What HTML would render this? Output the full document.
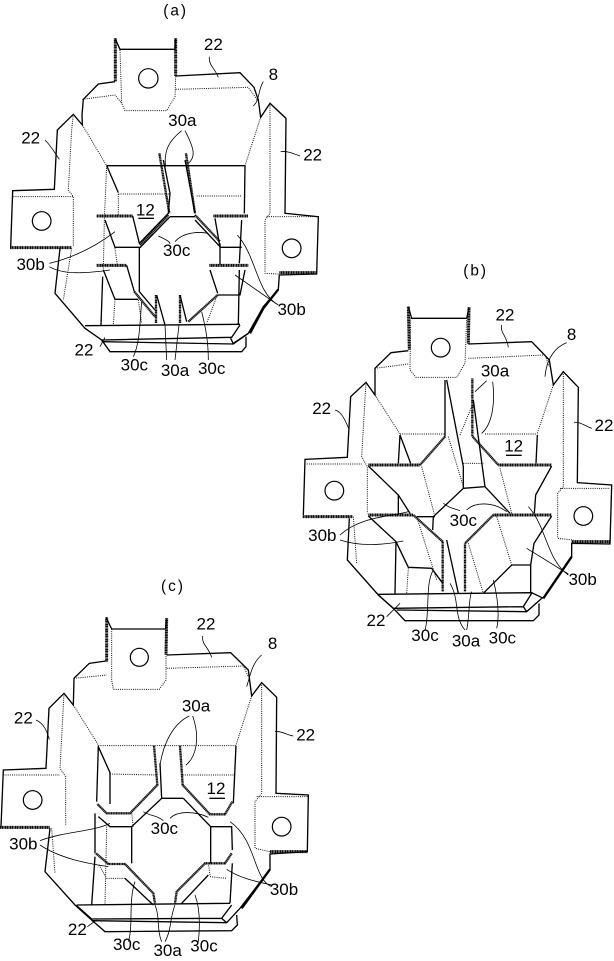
<!DOCTYPE html>
<html><head><meta charset="utf-8"><style>
html,body{margin:0;padding:0;background:#fff}
svg{display:block}
.s,.d,.t,.l,.c,.k{fill:none;stroke-linejoin:miter}
.s{stroke:#000;stroke-width:4}
.d{stroke:#111;stroke-width:3;stroke-dasharray:3 3.5}
.t{stroke:#111;stroke-width:9;stroke-dasharray:4 1}
.k{stroke:#000;stroke-width:7}
.l{stroke:#000;stroke-width:2.4}
.c{stroke:#000;stroke-width:3.6}
text{font-family:"Liberation Sans",sans-serif;font-size:51px;text-anchor:middle;fill:#000}
.p{font-size:46px;letter-spacing:6px}
</style></head><body>
<svg width="614" height="961" viewBox="0 0 614 961" xmlns="http://www.w3.org/2000/svg">
<rect width="614" height="961" fill="#fff"/>

<!-- (a) -->
<g transform="scale(.33333)">
<path class="t" d="M346 115V245M527 115V228M30 743H215M838 818H950M290 648H398M640 648H745M290 796H380M628 796H745"/>
<path class="t" style="stroke-width:7" d="M478 460L508 640M558 460L585 640M505 645L420 735M585 645L660 725M403 875L465 950M653 885L565 965M468 885V970M540 885V970"/>
<path class="k" d="M750 1000L790 925L835 868"/>
<path class="s" d="M345 115L360 148H525L527 115M345 245L295 252L250 298L246 345L247 375L220 343L172 390L163 568L38 572L32 742M180 745L165 880L255 985L305 1020L330 1055H725L738 1040V1010M700 1030L745 1000L790 920L835 868L838 825L950 822L955 650L855 640L858 355L810 310L782 352L775 300L762 262L720 218L527 228"/>
<path class="s" d="M320 497H735M320 497L355 578M255 977L720 973M305 1020L695 1012L720 975M305 1025L700 1032L745 1000M690 1010L700 1032M398 648L418 730L505 640L510 580L490 480M510 650L418 745V875L465 930M510 650H585M585 640L555 480M315 660L345 742H420M308 830L303 975M310 810L345 898H415M380 796L403 875M470 885L495 975M540 885L560 965M630 810L653 880M735 810L720 885H653M725 660L718 790M718 810L715 973M645 655L660 742H725M660 730V795M735 497L733 640M585 660L660 740M418 745L505 655"/>
<path class="d" d="M360 150L365 310L375 332H500L525 290L527 228M247 298L345 285L365 310M527 268L745 262L772 300M247 375L320 497M782 352L735 497M220 343L215 390L205 570L220 590V740M40 590H220M215 745L190 900M810 310V640L795 660V820L835 822M800 650H950M355 582V648M355 582H510M590 588H725M320 497L313 660L310 810M345 745L352 795M345 898L340 975M415 900L425 970M650 890L620 970"/>
<circle class="c" cx="445" cy="235" r="29"/><circle class="c" cx="125" cy="663" r="28"/><circle class="c" cx="875" cy="745" r="28"/>
<path class="l" d="M628 170C625 195 645 205 655 232M790 245C775 265 780 300 760 318M135 420C155 440 165 460 178 478M900 468C880 460 860 452 842 455M545 392C510 420 490 450 497 500M555 392C580 440 590 470 565 490M475 708C500 720 510 725 510 732M525 725C550 695 600 695 625 700M148 790C210 775 280 745 345 695M148 800C190 825 260 820 330 810M835 915C770 880 770 770 712 705M830 912L705 825M300 1040L315 1012M400 1070C420 1030 420 960 425 905M500 1080L495 975M525 1080L537 975M625 1080C625 1020 615 975 605 935"/>
<line class="s" x1="415" y1="655" x2="462" y2="655"/>
<text class="p" x="527" y="47">(a)</text><text x="640" y="150">22</text><text x="820" y="240">8</text><text x="547" y="378">30a</text><text x="92" y="430">22</text><text x="938" y="482">22</text><text x="436" y="646">12</text><text x="530" y="768">30c</text><text x="92" y="810">30b</text><text x="875" y="945">30b</text><text x="252" y="1067">22</text><text x="403" y="1112">30c</text><text x="525" y="1128">30a</text><text x="635" y="1122">30c</text>
</g>

<!-- (b) -->
<g transform="translate(290 260) scale(.33333)">
<path class="t" d="M355 140L358 270M537 142L535 252M38 770H188M235 615H390M625 615H785M235 765H370M610 765H785M845 845H960"/>
<path class="t" style="stroke-width:7" d="M547 355V530M465 530L390 615M548 530L625 615M370 765L458 845M610 765L525 850M458 845V995M525 850V995"/>
<path class="k" d="M760 1015L845 890"/>
<path class="s" d="M355 140L365 175H530L537 142M355 272L303 278L255 325V405L228 367L182 410L172 592L45 598L40 765M178 775L172 900L265 1005L310 1045L345 1082H730L747 1065V1030M760 1015L845 890V850L960 852L965 675L862 668L865 382L820 335L790 375L778 300L725 245L535 252"/>
<path class="s" d="M465 360V530M235 618L325 705L360 760M785 618L737 705L733 760M235 768L318 845L355 922L425 925L458 970M785 768L732 850L722 915H665L580 1000M318 845L315 1000M722 915V1000M330 525L362 610M330 525L325 610M742 525L738 610M470 360L520 620V685L430 770L428 810M550 420L585 680L520 685M585 680L660 760M380 770H435M470 840L505 1000M265 1003L725 998L760 1015M265 1005L310 1045L700 1040L725 1000M320 1050L710 1055L755 1015M700 1040L710 1055M325 705V765"/>
<path class="d" d="M362 175L360 330L378 352H500L525 310L530 175M255 325L355 312M535 295L765 285L778 320M255 405L330 522M790 375L742 520M330 522H465M585 522H742M228 367L215 590L232 620V760M50 612H215M190 770L200 910M820 335V680L803 700V835L850 840M810 685H960M475 530L520 680M535 850L580 1000M355 925L350 1000M380 770L440 960M620 770L665 915M510 525L545 440M520 610H580M395 620L435 770M630 625L665 760"/>
<circle class="c" cx="452" cy="263" r="28"/><circle class="c" cx="133" cy="692" r="28"/><circle class="c" cx="880" cy="768" r="28"/>
<path class="l" d="M635 195C630 220 650 225 655 262M830 248C800 260 770 290 765 350M135 450C155 455 165 480 176 505M905 505C885 498 870 485 852 487M608 365C615 420 610 490 575 520M590 362L555 395M460 730C480 745 490 745 510 752M530 750C555 725 610 725 650 755M150 825C210 770 300 770 355 755M150 840C210 860 280 855 340 843M835 945C770 900 770 800 715 740M835 942L710 865M290 1070L330 1030M405 1110C420 1060 405 970 430 930M525 1110C490 1070 510 1020 480 970M530 1110C540 1060 535 1020 545 995M620 1105C630 1060 620 1000 610 960"/>
<line class="s" x1="648" y1="586" x2="695" y2="586"/>
<text class="p" x="557" y="47">(b)</text><text x="645" y="182">22</text><text x="845" y="240">8</text><text x="615" y="350">30a</text><text x="95" y="462">22</text><text x="942" y="513">22</text><text x="671" y="575">12</text><text x="520" y="798">30c</text><text x="97" y="843">30b</text><text x="878" y="975">30b</text><text x="258" y="1098">22</text><text x="405" y="1143">30c</text><text x="528" y="1160">30a</text><text x="637" y="1150">30c</text>
</g>

<!-- (c) -->
<g transform="translate(0 580) scale(.33333)">
<path class="t" d="M320 112V245M500 115L498 225M0 742H150M810 815H922"/>
<path class="t" style="stroke-width:7" d="M462 497L472 615L390 700H320L292 672M540 497L548 615L630 703H675L697 665M288 820L325 852H375L460 940L465 970M695 820L675 850H615L530 935L525 970"/>
<path class="k" d="M725 985L810 868"/>
<path class="s" d="M318 112L335 147H497L500 115M318 243L268 250L222 295L220 375L192 340L147 385L138 565L10 570L3 740M150 745L135 875L225 975L275 1020L315 1055L695 1052L712 1035L710 1005M720 985L810 868V822L922 815L925 645L828 640L830 352L785 308L755 348L745 270L692 218L500 225"/>
<path class="s" d="M295 497L290 665M295 500L330 578V672M708 497L700 670M480 550L485 655L395 740V850M550 655H485M550 655L632 740V850M295 710L330 740H395M632 740H695L697 810M285 700V820M285 830L275 975M697 850L690 970M375 895L460 975M625 885L545 970M230 975L690 970M230 977L275 1017L665 1015L695 975M275 1022L680 1028L720 985M665 1015L680 1028"/>
<path class="d" d="M335 147V300L340 328H478L498 300V150M222 295L320 285M500 265L730 258L745 290M220 375L295 495M755 348L708 495M295 497H708M192 340L180 565L197 590V735M10 585H180M155 745L165 880M785 308V640L765 665V805L810 815M770 650H925M330 582L470 585M548 585H705M297 855L320 895H375M630 890L680 895M625 850L630 885M320 740L315 975M395 700L400 740"/>
<circle class="c" cx="418" cy="232" r="27"/><circle class="c" cx="98" cy="660" r="28"/><circle class="c" cx="845" cy="740" r="28"/>
<path class="l" d="M608 168C605 195 625 200 635 232M785 225C755 250 750 290 740 320M108 420C130 430 140 450 148 478M880 468C860 465 845 452 825 455M568 408C520 430 490 490 480 555M578 408C600 470 590 530 558 555M430 695C455 710 470 705 490 722M510 715C535 690 590 695 625 712M120 782C190 755 280 755 330 730M120 795C180 835 260 850 325 860M815 920C760 900 770 780 690 725M815 915C770 905 720 895 680 868M262 1040L290 1020M385 1085C400 1040 385 960 405 905M485 1085C470 1050 480 1010 465 975M495 1085C515 1050 510 1010 525 975M595 1085C600 1040 600 985 585 945"/>
<line class="s" x1="628" y1="655" x2="675" y2="655"/>
<text class="p" x="519" y="33">(c)</text><text x="618" y="148">22</text><text x="818" y="207">8</text><text x="588" y="395">30a</text><text x="70" y="430">22</text><text x="917" y="482">22</text><text x="648" y="642">12</text><text x="493" y="762">30c</text><text x="70" y="808">30b</text><text x="852" y="945">30b</text><text x="232" y="1065">22</text><text x="380" y="1110">30c</text><text x="503" y="1128">30a</text><text x="612" y="1115">30c</text>
</g>
</svg>
</body></html>
